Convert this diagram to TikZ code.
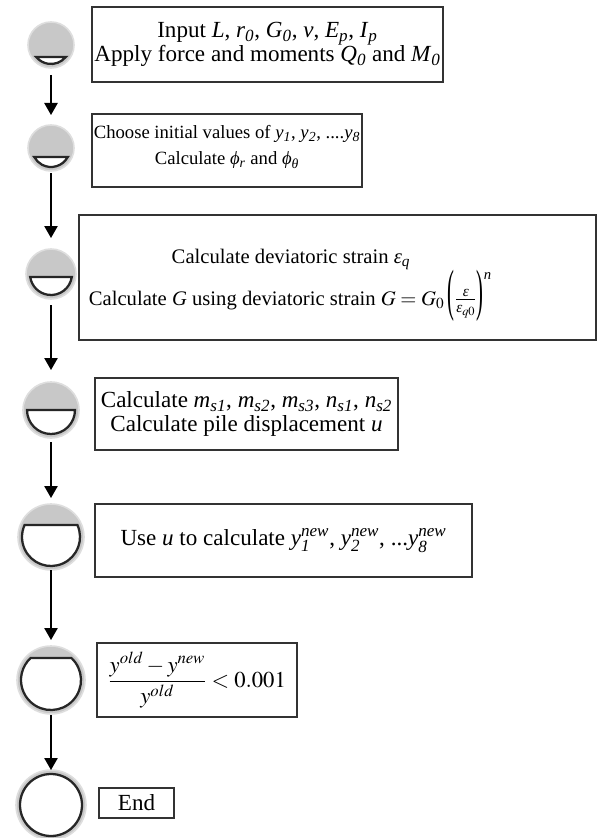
\documentclass[tikz,border=0pt]{standalone}
\usepackage{amsmath}
\usepackage{graphicx}
\usepackage{mathptmx}
\usepackage{fontspec}
\setmainfont{Liberation Serif}
\usetikzlibrary{arrows.meta}
\definecolor{ringc}{HTML}{262626}
\definecolor{capg}{HTML}{C8C8C8}
\definecolor{boxc}{HTML}{333333}
\newcommand\segm[3]{%
  \pgfmathsetmacro\segth{asin(-(#3)/(#2))}%
  \pgfmathsetmacro\segend{-180-\segth}%
  \filldraw[fill=white,draw=ringc,line width=1.7pt]
    ([shift={(\segth:#2)}]#1.center) arc[start angle=\segth,end angle=\segend,radius=#2] -- cycle;}
\newcommand\iv[2]{\textit{#1}\textsubscript{\textit{#2}}}
\newcommand\ysn[1]{\textit{y}$_{\textit{#1}}^{\textit{new}}$}
\newcommand\tallpar[1]{\raisebox{-3.4pt}{\scalebox{1}[2.75]{#1}}}
\begin{document}
\begin{tikzpicture}[x=0.75pt,y=0.75pt,
  font=\fontsize{17.3}{18}\selectfont,
  dotc/.style={circle,inner sep=0pt,outer sep=0pt,minimum size=#1*1.5pt,
    fill=capg,draw=capg!60,line width=1.2pt},
  bx/.style 2 args={draw=boxc,line width=1.1pt,inner sep=0pt,align=center,
    minimum width=#1*0.75pt,minimum height=#2*0.75pt},
  txt/.style={inner sep=0pt,anchor=base},
  arr/.style={-{Triangle[width=10pt,length=9pt]},line width=1.1pt,black}]
\useasboundingbox (0,0) rectangle (598,-838);
% circles
\node[dotc=23] (c1) at (51,-45) {};
\node[dotc=23] (c2) at (51,-148) {};
\node[dotc=25] (c3) at (51,-274) {};
\node[dotc=28] (c4) at (51,-410) {};
\node[dotc=33] (c5) at (51,-537) {};
\node[dotc=34] (c6) at (51,-680) {};
\node[dotc=35] (c7) at (51,-805) {};
\segm{c1}{19}{12}
\segm{c2}{19}{9}
\segm{c3}{21}{3}
\segm{c4}{24}{0}
\segm{c5}{29}{-12}
\segm{c6}{30}{-22}
\filldraw[fill=white,draw=ringc,line width=1.7pt] (c7.center) circle[radius=31];
% arrows
\draw[arr,shorten <=5.25pt,shorten >=7.5pt] (c1) -- (c2);
\draw[arr,shorten <=1.5pt,shorten >=8.25pt] (c2) -- (c3);
\draw[arr,shorten <=4.5pt,shorten >=9pt] (c3) -- (c4);
\draw[arr,shorten <=3pt,shorten >=4.5pt] (c4) -- (c5);
\draw[arr,shorten >=4.5pt] (c5) -- (c6);
\draw[arr,shorten <=0.75pt] (c6) -- (c7);
% boxes
\node[bx={351}{75}] (b1) at (267.5,-44.5)
  {Input \textit{L}, \iv{r}{0}, \iv{G}{0}, \textit{v}, \iv{E}{p}, \iv{I}{p}\\
   Apply force and moments \iv{Q}{0} and \iv{M}{0}};
\node[bx={270}{73}] (b2) at (227,-150.5) {};
\node[txt, font=\fontsize{14}{16}\selectfont] (t2a) at (227,-139)
  {Choose initial values of \iv{y}{1}, \iv{y}{2}, ....\iv{y}{8}};
\node[txt, font=\fontsize{14}{16}\selectfont] (t2b) at (227,-165)
  {Calculate \iv{ϕ}{r} and \iv{ϕ}{θ}};
\node[bx={517}{125}] (b3) at (337.5,-277.5) {};
\node[txt, font=\fontsize{15.5}{18}\selectfont] (t3a) at (291,-263)
  {Calculate deviatoric strain \iv{ε}{q}};
\node[txt, font=\fontsize{15.5}{18}\selectfont] (t3b) at (290,-305)
  {Calculate \textit{G} using deviatoric strain $G = G_0$\,\tallpar{(}$\frac{\textit{ε}}{\textit{ε}_{q0}}$\tallpar{)}\raisebox{19pt}{\fontsize{11}{11}\selectfont\textit{n}}};
\node[bx={303}{72}] (b4) at (246.5,-414)
  {Calculate \iv{m}{s1}, \iv{m}{s2}, \iv{m}{s3}, \iv{n}{s1}, \iv{n}{s2}\\
   Calculate pile displacement \textit{u}};
\node[bx={377}{73}] (b5) at (283.5,-540.5)
  {Use \textit{u} to calculate \ysn{1}, \ysn{2}, ...\ysn{8}};
\node[bx={200}{74}, font=\fontsize{17}{18}\selectfont] (b6) at (197,-680)
  {$\dfrac{y^{old}-y^{new}}{y^{old}} < 0.001$};
\node[bx={75}{30}] (b7) at (136.5,-803) {End};
\end{tikzpicture}
\end{document}
